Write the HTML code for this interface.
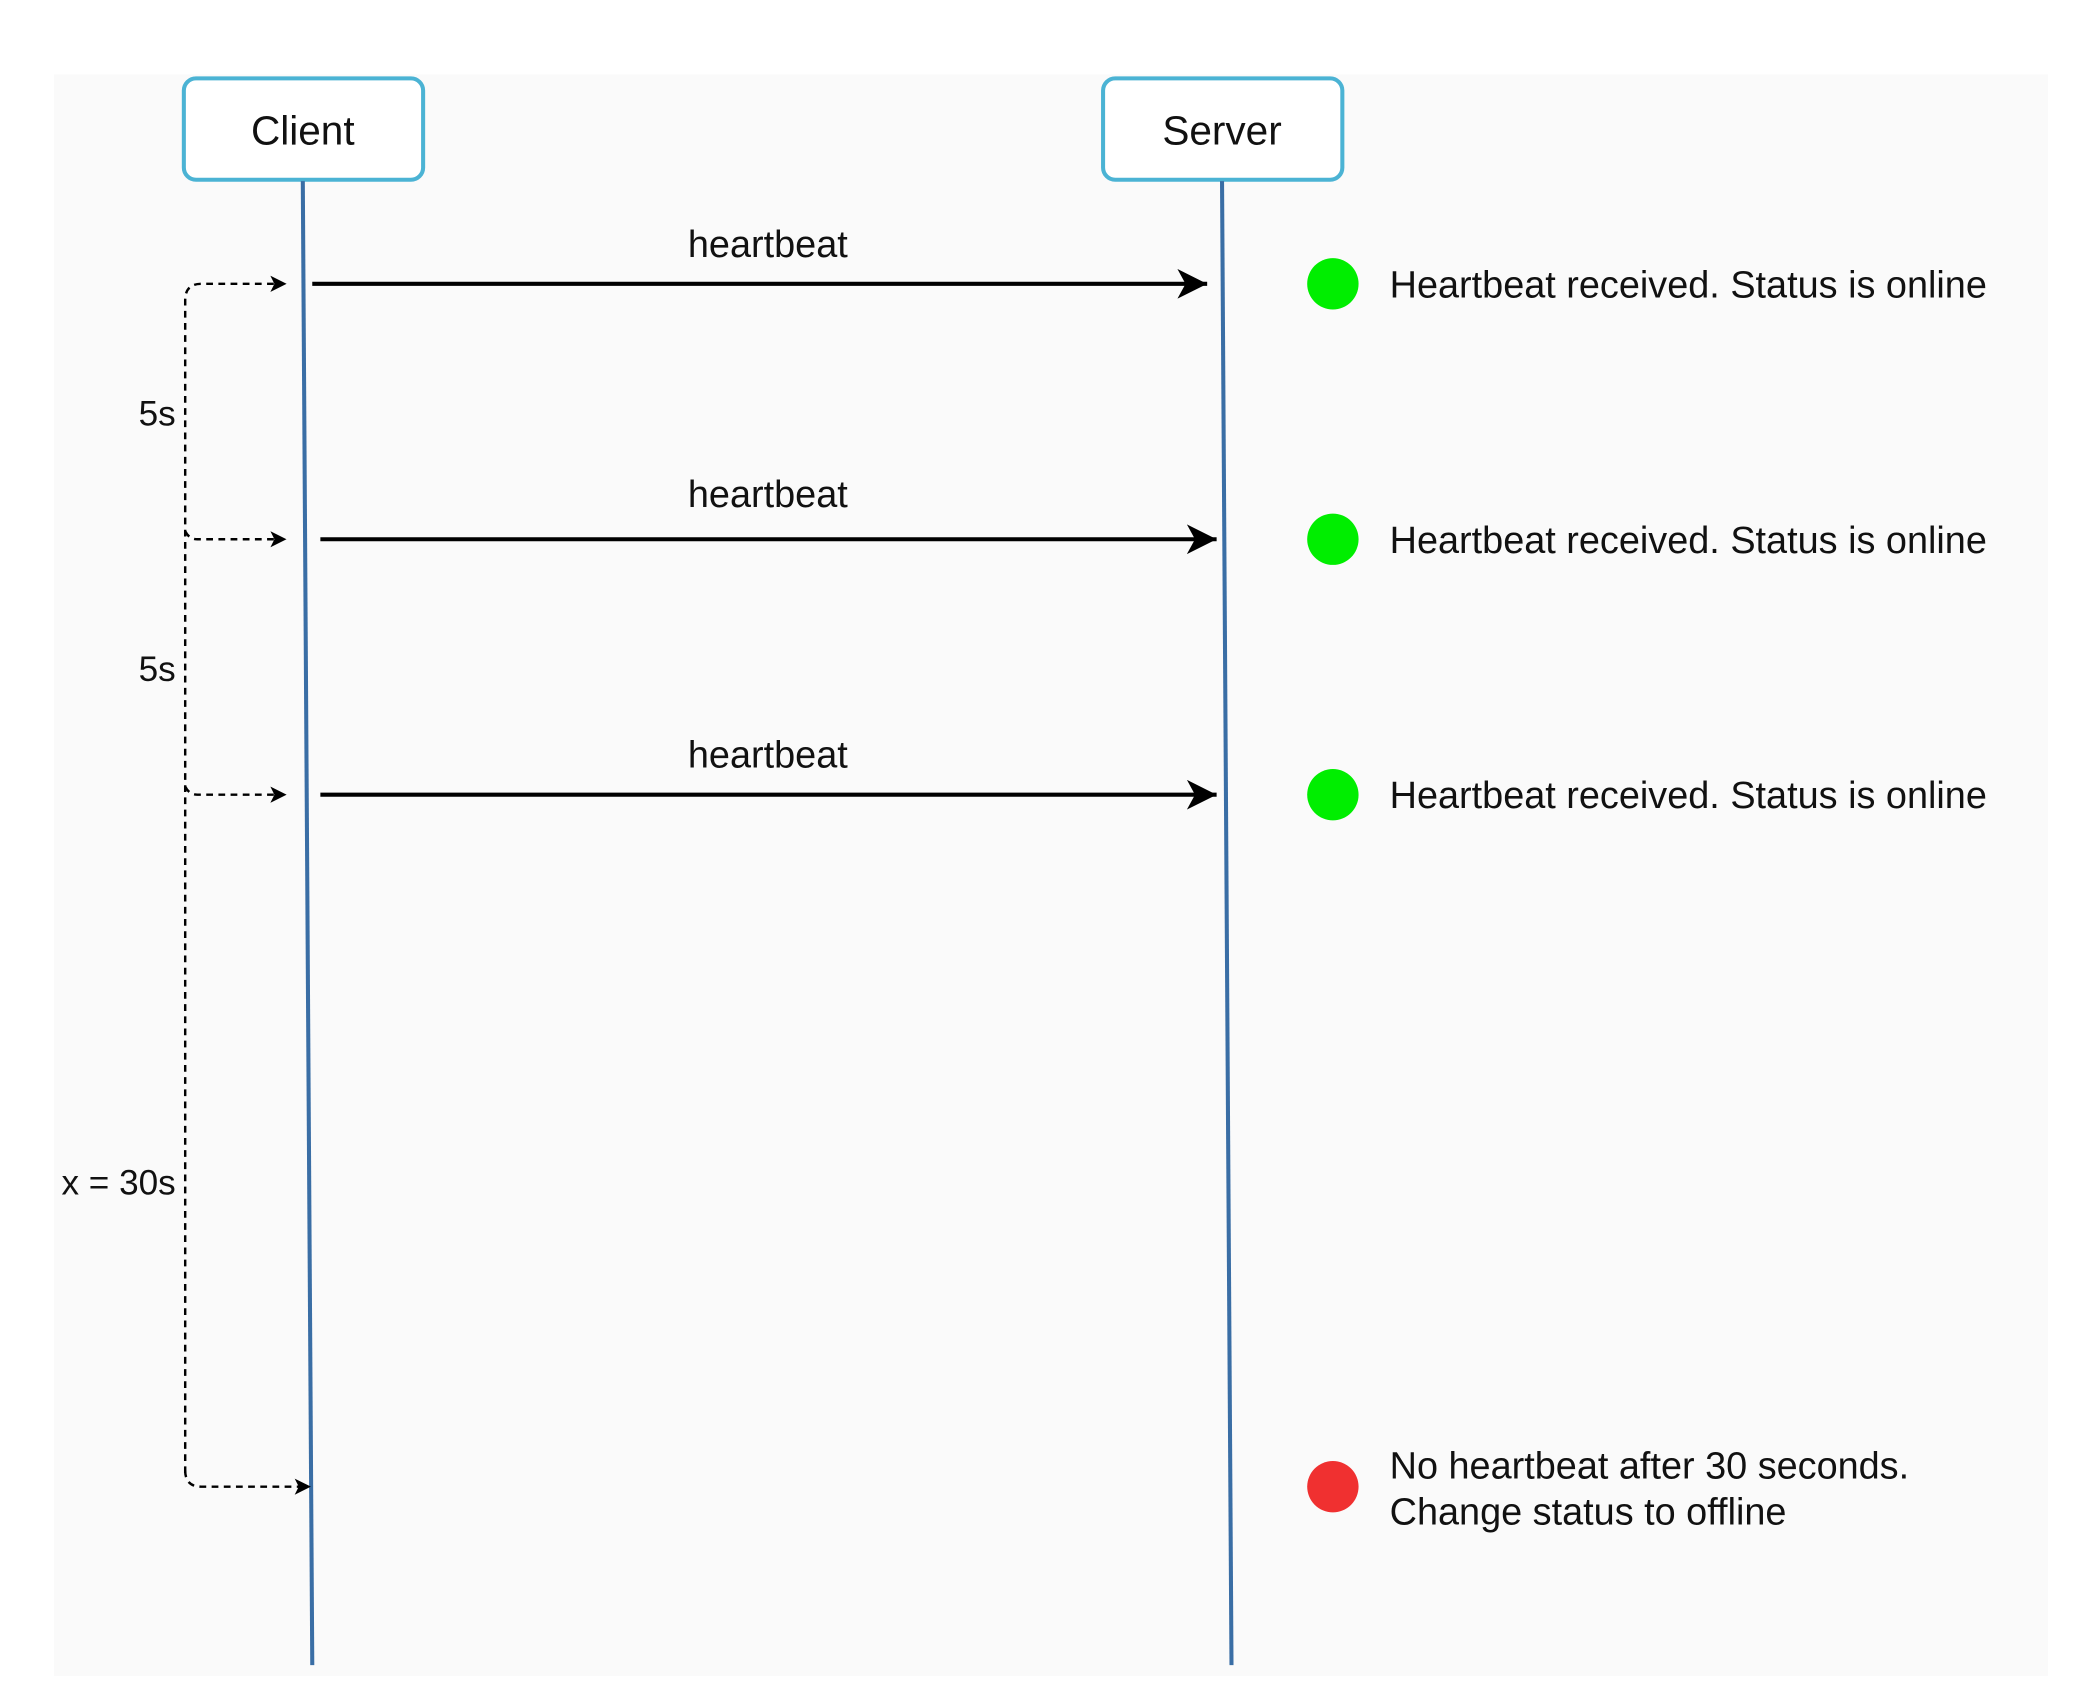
<!DOCTYPE html>
<html><head><meta charset="utf-8"><style>
html,body{margin:0;padding:0;background:#fff;}
svg{display:block;}
text{font-family:"Liberation Sans",sans-serif;fill:#111;}
</style></head><body>
<svg width="2098" height="1684" viewBox="0 0 1552 1246" preserveAspectRatio="none" xmlns="http://www.w3.org/2000/svg">
<defs>
<marker id="a" markerWidth="12" markerHeight="12" refX="10" refY="6" orient="auto" markerUnits="userSpaceOnUse"><path d="M0,0 L12,6 L0,12 L3,6 Z" fill="#000"/></marker>
<marker id="b" markerWidth="24" markerHeight="22" refX="22" refY="11" orient="auto" markerUnits="userSpaceOnUse"><path d="M0,0 L22,11 L0,22 L6,11 Z" fill="#000"/></marker>
</defs>
<rect x="40" y="55" width="1475" height="1185" fill="#fafafa"/>
<rect x="136" y="58" width="177" height="75" rx="9" fill="#fff" stroke="#4bb3d4" stroke-width="3"/>
<rect x="816" y="58" width="177" height="75" rx="9" fill="#fff" stroke="#4bb3d4" stroke-width="3"/>
<text x="224" y="107" font-size="30" text-anchor="middle">Client</text>
<text x="904" y="107" font-size="30" text-anchor="middle">Server</text>
<line x1="224" y1="134" x2="231" y2="1232" stroke="#3a6ea5" stroke-width="3"/>
<line x1="904" y1="134" x2="911" y2="1232" stroke="#3a6ea5" stroke-width="3"/>
<g stroke="#000" stroke-width="3">
<line x1="231" y1="210" x2="893" y2="210" marker-end="url(#b)"/>
<line x1="237" y1="399" x2="900" y2="399" marker-end="url(#b)"/>
<line x1="237" y1="588" x2="900" y2="588" marker-end="url(#b)"/>
</g>
<g font-size="28" text-anchor="middle">
<text x="568" y="190">heartbeat</text>
<text x="568" y="375">heartbeat</text>
<text x="568" y="568">heartbeat</text>
</g>
<g fill="none" stroke="#000" stroke-width="1.8" stroke-dasharray="5,4">
<path d="M137,1090 L137,222 Q137,210 149,210 L210,210" marker-end="url(#a)"/>
<path d="M137,393 Q140,399 146,399 L210,399" marker-end="url(#a)"/>
<path d="M137,582 Q140,588 146,588 L210,588" marker-end="url(#a)"/>
<path d="M137,1088 Q137,1100 149,1100 L228,1100" marker-end="url(#a)"/>
</g>
<g font-size="26" text-anchor="end">
<text x="130" y="315">5s</text>
<text x="130" y="504">5s</text>
<text x="130" y="884">x = 30s</text>
</g>
<circle cx="986" cy="210" r="19" fill="#00ee00"/>
<circle cx="986" cy="399" r="19" fill="#00ee00"/>
<circle cx="986" cy="588" r="19" fill="#00ee00"/>
<circle cx="986" cy="1100" r="19" fill="#f03030"/>
<g font-size="28">
<text x="1028" y="220">Heartbeat received. Status is online</text>
<text x="1028" y="409">Heartbeat received. Status is online</text>
<text x="1028" y="598">Heartbeat received. Status is online</text>
<text x="1028" y="1094">No heartbeat after 30 seconds.</text>
<text x="1028" y="1128">Change status to offline</text>
</g>
</svg>
</body></html>
